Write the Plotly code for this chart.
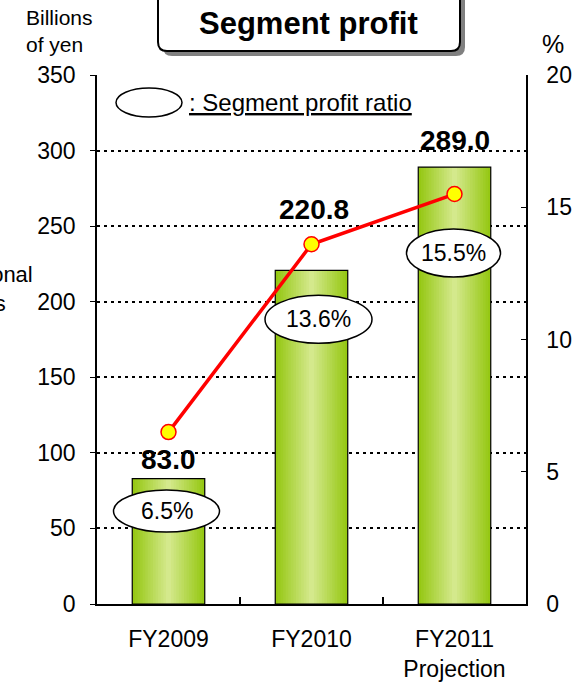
import plotly.graph_objects as go

# ---------------- data ----------------
categories = ["FY2009", "FY2010", "FY2011<br>Projection"]
segment_profit = [83.0, 220.8, 289.0]          # billions of yen (left axis)
profit_ratio = [6.5, 13.6, 15.5]                 # % (right axis)
left_ticks = [0, 50, 100, 150, 200, 250, 300, 350]
right_ticks = [0, 5, 10, 15, 20]

# ---------------- layout helpers ----------------
W, H = 574, 688
PL, PR, PT, PB = 97, 526, 75, 604   # plot area in pixels


def px(x):
    return (x - PL) / (PR - PL)


def py(y):
    return (PB - y) / (PB - PT)


FONT = "Liberation Sans, Arial, sans-serif"

fig = go.Figure()

# gradient bars: overlaid bars of decreasing width, lighter towards the centre
edge = (150, 200, 20)
center = (212, 233, 140)
N = 14
bar_w = 0.507
for i in range(N):
    t = i / (N - 1)
    c = tuple(int(edge[k] + (center[k] - edge[k]) * t) for k in range(3))
    w = bar_w * (1 - i / N)
    fig.add_trace(go.Bar(
        x=categories, y=segment_profit, width=w,
        marker=dict(color=f"rgb{c}", line=dict(width=0)),
        hoverinfo="skip", showlegend=False, yaxis="y"))
fig.add_trace(go.Bar(
    x=categories, y=segment_profit, width=bar_w,
    marker=dict(color="rgba(0,0,0,0)", line=dict(color="black", width=1.2)),
    showlegend=False, yaxis="y"))

# ratio line
fig.add_trace(go.Scatter(
    x=categories, y=profit_ratio, yaxis="y2", mode="lines+markers",
    line=dict(color="#ff0000", width=3.5),
    marker=dict(size=15, color="#ffff00", line=dict(color="#ff0000", width=1.5)),
    cliponaxis=False, showlegend=False))

shapes = []
annotations = []

# value labels above bars
val_shift = [2, 43, 9]
for i, v in enumerate(segment_profit):
    annotations.append(dict(
        x=i, y=v, xref="x", yref="y", xanchor="center", yanchor="bottom",
        yshift=val_shift[i], xshift=(2 if i == 1 else 0),
        text=f"{v:.1f}", showarrow=False,
        font=dict(family=FONT, size=28, color="black", weight="bold")))

# ratio labels in ellipses
ell_dx = [-2, 7, -1]
ell_dy = [-79, -75, -59]
ell_w = [106, 107, 94]
ell_h = [42, 48, 48]
for i, r in enumerate(profit_ratio):
    shapes.append(dict(
        type="circle", xref="x", yref="y2", xsizemode="pixel", ysizemode="pixel",
        xanchor=i, yanchor=r,
        x0=ell_dx[i] - ell_w[i] / 2, x1=ell_dx[i] + ell_w[i] / 2,
        y0=ell_dy[i] - ell_h[i] / 2, y1=ell_dy[i] + ell_h[i] / 2,
        fillcolor="white", line=dict(color="black", width=1.5), layer="above"))
    annotations.append(dict(
        x=i, y=r, xref="x", yref="y2", xanchor="center", yanchor="middle",
        xshift=ell_dx[i], yshift=ell_dy[i],
        text=f"{r:.1f}%", showarrow=False,
        font=dict(family=FONT, size=23, color="black")))


def rounded(x0, y0, x1, y1, r):
    rx = r / (PR - PL)
    ry = r / (PB - PT)
    X0, X1 = px(x0), px(x1)
    Y0, Y1 = py(y0), py(y1)
    return (f"M {X0+rx},{Y0} L {X1-rx},{Y0} Q {X1},{Y0} {X1},{Y0-ry} "
            f"L {X1},{Y1+ry} Q {X1},{Y1} {X1-rx},{Y1} L {X0+rx},{Y1} "
            f"Q {X0},{Y1} {X0},{Y1+ry} L {X0},{Y0-ry} Q {X0},{Y0} {X0+rx},{Y0} Z")


# title box with shadow
shapes.append(dict(type="path", xref="paper", yref="paper",
                   path=rounded(163, -10, 465, 56, 9),
                   fillcolor="#808080", line=dict(width=0), layer="above"))
shapes.append(dict(type="path", xref="paper", yref="paper",
                   path=rounded(158, -14, 460, 51, 9),
                   fillcolor="white", line=dict(color="black", width=2), layer="above"))
annotations.append(dict(x=px(308), y=py(24), xref="paper", yref="paper",
                        xanchor="center", yanchor="middle",
                        text="Segment profit", showarrow=False,
                        font=dict(family=FONT, size=31, color="black", weight="bold")))

# legend
shapes.append(dict(type="circle", xref="paper", yref="paper",
                   x0=px(116), x1=px(182), y0=py(88), y1=py(117),
                   fillcolor="white", line=dict(color="black", width=1.5), layer="above"))
annotations.append(dict(x=px(187), y=py(103), xref="paper", yref="paper",
                        xanchor="left", yanchor="middle",
                        text="<u>: Segment profit ratio</u>",
                        showarrow=False,
                        font=dict(family=FONT, size=24, color="black")))

# axis titles
annotations.append(dict(x=px(24), y=py(31), xref="paper", yref="paper",
                        xanchor="left", yanchor="middle", align="left",
                        text="Billions<br>of yen", showarrow=False,
                        font=dict(family=FONT, size=21, color="black")))
annotations.append(dict(x=px(553), y=py(44), xref="paper", yref="paper",
                        xanchor="center", yanchor="middle",
                        text="%", showarrow=False,
                        font=dict(family=FONT, size=25, color="black")))
annotations.append(dict(x=px(-24), y=py(289), xref="paper", yref="paper",
                        xanchor="center", yanchor="middle", align="center",
                        text="Operational<br>profits", showarrow=False,
                        font=dict(family=FONT, size=22, color="black")))

TICKFONT = dict(family=FONT, size=23, color="black")

fig.update_layout(
    width=W, height=H,
    margin=dict(l=PL, r=W - PR, t=PT, b=H - PB, autoexpand=False),
    paper_bgcolor="white", plot_bgcolor="white",
    barmode="overlay",
    shapes=shapes, annotations=annotations,
    font=dict(family=FONT, color="black"),
    xaxis=dict(showline=True, linecolor="black", linewidth=1.5, automargin=False,
               ticks="inside", tickson="boundaries", ticklen=7, tickcolor="black",
               tickwidth=1.5, tickfont=TICKFONT,
               ticklabelstandoff=14, showgrid=False),
    yaxis=dict(range=[0, 350], tickvals=left_ticks, showline=True, automargin=False,
               linecolor="black", linewidth=1.5, ticks="outside", ticklen=5,
               tickcolor="black", tickfont=TICKFONT,
               ticklabelstandoff=10,
               showgrid=True, gridcolor="black", gridwidth=2, griddash="3px,4px",
               zeroline=False),
    yaxis2=dict(range=[0, 20], tickvals=right_ticks, overlaying="y", side="right",
                showline=True, linecolor="black", linewidth=1.5, ticks="inside",
                automargin=False,
                ticklen=5, tickcolor="black", tickfont=TICKFONT,
                ticklabelstandoff=14, showgrid=False, zeroline=False),
)

POST = """
document.documentElement.style.margin='0';
document.body.style.margin='0';
document.body.style.overflow='hidden';
"""

fig.write_html("out.html", config={"displayModeBar": False}, post_script=POST)
